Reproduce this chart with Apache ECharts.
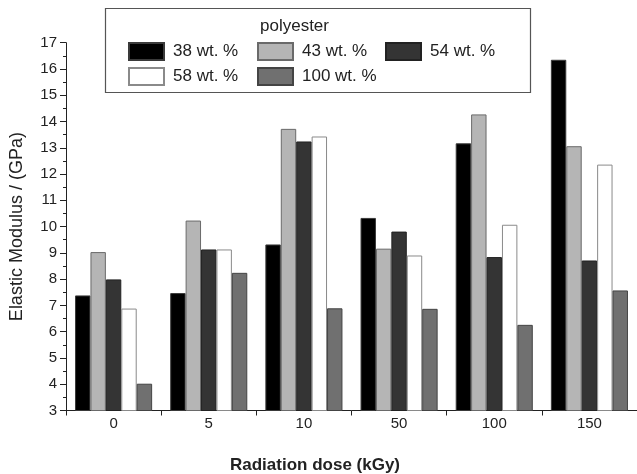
<!DOCTYPE html>
<html><head><meta charset="utf-8">
<script src="https://cdn.jsdelivr.net/npm/echarts@6/dist/echarts.min.js"></script>
<style>html,body{margin:0;padding:0;background:#fff}#c{width:637px;height:474px}</style>
</head><body><div id="c"></div>
<script>
const categories = ['0', '5', '10', '50', '100', '150'];
const s38 = [7.38, 7.47, 9.32, 10.33, 13.17, 16.35];
const s43 = [9.03, 10.23, 13.72, 9.16, 14.27, 13.06];
const s54 = [7.99, 9.13, 13.24, 9.81, 8.84, 8.71];
const s58 = [6.88, 9.13, 13.43, 8.90, 10.07, 12.36];
const s100 = [4.02, 8.24, 6.89, 6.87, 6.26, 7.57];
const seriesNames = ['38 wt. %', '43 wt. %', '54 wt. %', '58 wt. %', '100 wt. %'];
const yTicks = [3, 17, 1];

const font = 'Liberation Sans, Arial, sans-serif';
const colors = ['#000000', '#b5b5b5', '#343434', '#ffffff', '#707070'];
const borders = ['#3a3a3a', '#6a6a6a', '#222222', '#8a8a8a', '#444444'];
const data = [s38, s43, s54, s58, s100];
const legendPos = [[128, 42], [257, 42], [385, 42], [128, 67], [257, 67]];

const chart = echarts.init(document.getElementById('c'), null, {renderer: 'canvas'});
chart.setOption({
  animation: false,
  backgroundColor: '#fff',
  grid: {left: 64, right: -2, top: 42.7, bottom: 63.5, containLabel: false},
  legend: seriesNames.map((n, i) => ({
    left: legendPos[i][0], top: legendPos[i][1], data: [n],
    itemWidth: 35, itemHeight: 17, icon: 'rect', padding: 0, itemGap: 0,
    textStyle: {fontFamily: font, fontSize: 17, color: '#222', padding: [0, 0, 0, 4]}
  })),
  graphic: [
    {type: 'rect', shape: {x: 105.5, y: 8.5, width: 425, height: 84}, style: {fill: 'none', stroke: '#555', lineWidth: 1.2}, z: 10},
    {type: 'text', left: 260, top: 18, style: {text: 'polyester', font: '17px ' + font, fill: '#222'}, z: 11},
    {type: 'text', left: 230, top: 457, style: {text: 'Radiation dose (kGy)', font: 'bold 17px ' + font, fill: '#222'}, z: 11}
  ],
  xAxis: {
    type: 'category', data: categories,
    axisLine: {lineStyle: {color: '#222', width: 1}},
    axisTick: {show: true, inside: false, length: 5, lineStyle: {color: '#222'}},
    axisLabel: {fontFamily: font, fontSize: 15, color: '#222', margin: 6}
  },
  yAxis: {
    type: 'value', min: yTicks[0], max: yTicks[1], interval: yTicks[2],
    axisLine: {show: true, lineStyle: {color: '#222', width: 1}},
    axisTick: {show: true, length: 6, lineStyle: {color: '#222'}},
    minorTick: {show: true, splitNumber: 2, length: 3, lineStyle: {color: '#222'}},
    splitLine: {show: false},
    axisLabel: {fontFamily: font, fontSize: 15, color: '#222', margin: 9},
    name: 'Elastic Modulus / (GPa)', nameLocation: 'middle', nameGap: 40, nameRotate: 90,
    nameTextStyle: {fontFamily: font, fontSize: 18, color: '#222'}
  },
  series: seriesNames.map((n, i) => ({
    name: n, type: 'bar', data: data[i],
    barGap: '0%', barCategoryGap: '19%',
    itemStyle: {color: colors[i], borderColor: borders[i], borderWidth: 1}
  }))
});
</script></body></html>
